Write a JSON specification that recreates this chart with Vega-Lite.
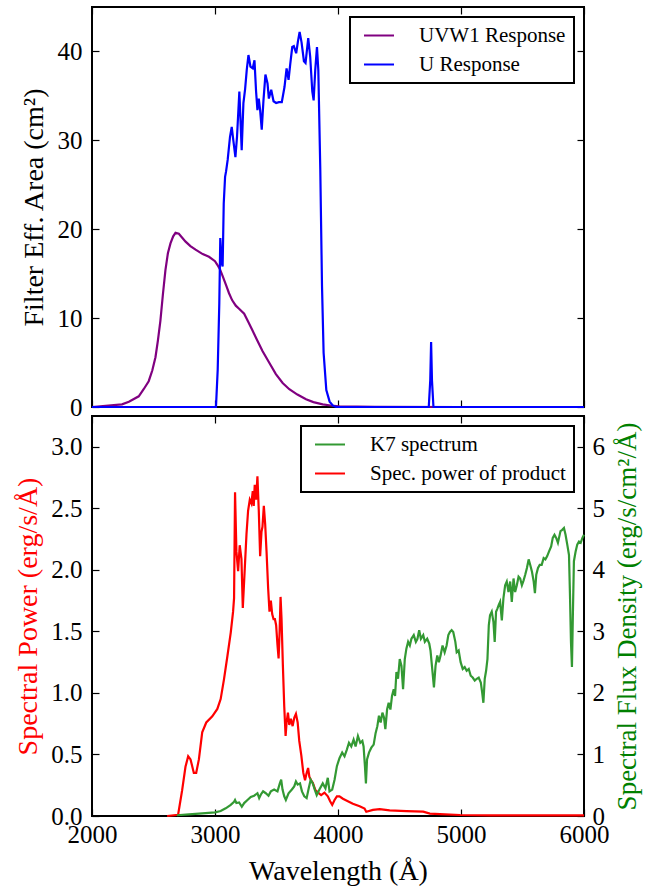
{
"$schema": "https://vega.github.io/schema/vega-lite/v6.json",
"autosize": {"type": "pad"},
"padding": {"left": 13, "top": 5, "right": 5, "bottom": 5},
"background": "white",
"config": {
  "font": "Liberation Serif",
  "view": {"stroke": "black", "strokeWidth": 2},
  "axis": {"domain": false, "grid": false, "tickColor": "black", "tickSize": -7, "tickWidth": 1.2,
    "labelFont": "Liberation Serif", "labelFontSize": 25, "labelColor": "black", "labelFlush": false, "labelOverlap": false,
    "titleFont": "Liberation Serif", "titleFontSize": 28, "titleFontWeight": "normal", "titleColor": "black"},
  "legend": {"orient": "top-right", "offset": 10, "padding": 8, "strokeColor": "black", "strokeWidth": 2, "fillColor": "white",
    "cornerRadius": 0, "labelFont": "Liberation Serif", "labelFontSize": 21, "labelColor": "black", "labelLimit": 400,
    "symbolType": "M-0.6,0H3.4", "symbolSize": 225, "symbolStrokeWidth": 2, "labelOffset": 40, "rowPadding": 7}
},
"resolve": {"scale": {"color": "independent"}},
"spacing": 9,
"bounds": "flush",
"datasets": {
  "top": [
    {"s":"UVW1 Response","w":2000,"v":0},{"s":"UVW1 Response","w":2244,"v":0.3},{"s":"UVW1 Response","w":2300,"v":0.6},{"s":"UVW1 Response","w":2380,"v":1.2},{"s":"UVW1 Response","w":2420,"v":2.0},{"s":"UVW1 Response","w":2461,"v":2.9},{"s":"UVW1 Response","w":2490,"v":4.1},{"s":"UVW1 Response","w":2516,"v":5.6},{"s":"UVW1 Response","w":2536,"v":7.5},{"s":"UVW1 Response","w":2556,"v":9.7},{"s":"UVW1 Response","w":2576,"v":12.6},{"s":"UVW1 Response","w":2597,"v":15.4},{"s":"UVW1 Response","w":2617,"v":17.3},{"s":"UVW1 Response","w":2638,"v":18.4},{"s":"UVW1 Response","w":2660,"v":19.2},{"s":"UVW1 Response","w":2679,"v":19.6},{"s":"UVW1 Response","w":2706,"v":19.5},{"s":"UVW1 Response","w":2761,"v":18.6},{"s":"UVW1 Response","w":2800,"v":18.1},{"s":"UVW1 Response","w":2842,"v":17.7},{"s":"UVW1 Response","w":2900,"v":17.2},{"s":"UVW1 Response","w":2951,"v":16.9},{"s":"UVW1 Response","w":3000,"v":16.4},{"s":"UVW1 Response","w":3019,"v":16.0},{"s":"UVW1 Response","w":3040,"v":15.5},{"s":"UVW1 Response","w":3060,"v":14.8},{"s":"UVW1 Response","w":3090,"v":13.7},{"s":"UVW1 Response","w":3114,"v":12.8},{"s":"UVW1 Response","w":3140,"v":12.0},{"s":"UVW1 Response","w":3169,"v":11.4},{"s":"UVW1 Response","w":3200,"v":11.0},{"s":"UVW1 Response","w":3237,"v":10.5},{"s":"UVW1 Response","w":3270,"v":9.6},{"s":"UVW1 Response","w":3305,"v":8.6},{"s":"UVW1 Response","w":3340,"v":7.6},{"s":"UVW1 Response","w":3386,"v":6.3},{"s":"UVW1 Response","w":3440,"v":5.0},{"s":"UVW1 Response","w":3495,"v":3.7},{"s":"UVW1 Response","w":3550,"v":2.7},{"s":"UVW1 Response","w":3604,"v":2.0},{"s":"UVW1 Response","w":3670,"v":1.4},{"s":"UVW1 Response","w":3740,"v":0.87},{"s":"UVW1 Response","w":3800,"v":0.55},{"s":"UVW1 Response","w":3876,"v":0.3},{"s":"UVW1 Response","w":3940,"v":0.17},{"s":"UVW1 Response","w":4012,"v":0.08},{"s":"UVW1 Response","w":4300,"v":0.02},{"s":"UVW1 Response","w":5000,"v":0},{"s":"UVW1 Response","w":6000,"v":0},
    {"s":"U Response","w":2000,"v":0},{"s":"U Response","w":3000,"v":0},{"s":"U Response","w":3008,"v":0},{"s":"U Response","w":3022,"v":4.2},{"s":"U Response","w":3035,"v":11.7},{"s":"U Response","w":3043,"v":19.0},{"s":"U Response","w":3054,"v":16.2},{"s":"U Response","w":3062,"v":15.8},{"s":"U Response","w":3071,"v":22.9},{"s":"U Response","w":3082,"v":25.9},{"s":"U Response","w":3090,"v":26.5},{"s":"U Response","w":3103,"v":27.8},{"s":"U Response","w":3122,"v":30.4},{"s":"U Response","w":3136,"v":31.5},{"s":"U Response","w":3149,"v":30.0},{"s":"U Response","w":3166,"v":28.1},{"s":"U Response","w":3179,"v":30.4},{"s":"U Response","w":3198,"v":35.5},{"s":"U Response","w":3217,"v":28.9},{"s":"U Response","w":3231,"v":34.2},{"s":"U Response","w":3245,"v":35.8},{"s":"U Response","w":3258,"v":37.9},{"s":"U Response","w":3272,"v":39.6},{"s":"U Response","w":3288,"v":38.3},{"s":"U Response","w":3307,"v":38.1},{"s":"U Response","w":3321,"v":39.0},{"s":"U Response","w":3334,"v":35.5},{"s":"U Response","w":3345,"v":33.4},{"s":"U Response","w":3356,"v":34.7},{"s":"U Response","w":3367,"v":33.4},{"s":"U Response","w":3380,"v":31.2},{"s":"U Response","w":3394,"v":34.5},{"s":"U Response","w":3410,"v":37.4},{"s":"U Response","w":3427,"v":36.4},{"s":"U Response","w":3438,"v":34.7},{"s":"U Response","w":3457,"v":35.7},{"s":"U Response","w":3476,"v":34.4},{"s":"U Response","w":3497,"v":34.2},{"s":"U Response","w":3519,"v":34.3},{"s":"U Response","w":3543,"v":34.3},{"s":"U Response","w":3565,"v":36.0},{"s":"U Response","w":3582,"v":38.1},{"s":"U Response","w":3598,"v":36.8},{"s":"U Response","w":3611,"v":38.5},{"s":"U Response","w":3628,"v":40.5},{"s":"U Response","w":3641,"v":40.6},{"s":"U Response","w":3660,"v":39.8},{"s":"U Response","w":3674,"v":41.1},{"s":"U Response","w":3688,"v":42.2},{"s":"U Response","w":3704,"v":41.0},{"s":"U Response","w":3723,"v":38.9},{"s":"U Response","w":3736,"v":38.7},{"s":"U Response","w":3758,"v":41.5},{"s":"U Response","w":3774,"v":39.4},{"s":"U Response","w":3791,"v":35.5},{"s":"U Response","w":3802,"v":34.5},{"s":"U Response","w":3815,"v":37.9},{"s":"U Response","w":3829,"v":40.5},{"s":"U Response","w":3840,"v":37.9},{"s":"U Response","w":3856,"v":26.7},{"s":"U Response","w":3870,"v":13.6},{"s":"U Response","w":3883,"v":6.1},{"s":"U Response","w":3905,"v":1.9},{"s":"U Response","w":3932,"v":0.6},{"s":"U Response","w":3959,"v":0.15},{"s":"U Response","w":3986,"v":0},{"s":"U Response","w":4738,"v":0},{"s":"U Response","w":4750,"v":3},{"s":"U Response","w":4757,"v":7.3},{"s":"U Response","w":4764,"v":3},{"s":"U Response","w":4776,"v":0},{"s":"U Response","w":6000,"v":0}
  ],
  "red": [
    {"s":"Spec. power of product","w":2611,"v":0.0},{"s":"Spec. power of product","w":2700,"v":0.01},{"s":"Spec. power of product","w":2733,"v":0.21},{"s":"Spec. power of product","w":2760,"v":0.40},{"s":"Spec. power of product","w":2782,"v":0.485},{"s":"Spec. power of product","w":2801,"v":0.46},{"s":"Spec. power of product","w":2828,"v":0.35},{"s":"Spec. power of product","w":2847,"v":0.35},{"s":"Spec. power of product","w":2869,"v":0.46},{"s":"Spec. power of product","w":2896,"v":0.68},{"s":"Spec. power of product","w":2929,"v":0.76},{"s":"Spec. power of product","w":2978,"v":0.81},{"s":"Spec. power of product","w":3019,"v":0.87},{"s":"Spec. power of product","w":3046,"v":0.95},{"s":"Spec. power of product","w":3073,"v":1.11},{"s":"Spec. power of product","w":3101,"v":1.30},{"s":"Spec. power of product","w":3128,"v":1.49},{"s":"Spec. power of product","w":3147,"v":1.66},{"s":"Spec. power of product","w":3155,"v":1.77},{"s":"Spec. power of product","w":3163,"v":2.63},{"s":"Spec. power of product","w":3174,"v":2.15},{"s":"Spec. power of product","w":3188,"v":1.99},{"s":"Spec. power of product","w":3201,"v":2.20},{"s":"Spec. power of product","w":3215,"v":2.09},{"s":"Spec. power of product","w":3226,"v":1.69},{"s":"Spec. power of product","w":3242,"v":2.01},{"s":"Spec. power of product","w":3256,"v":2.29},{"s":"Spec. power of product","w":3269,"v":2.48},{"s":"Spec. power of product","w":3283,"v":2.57},{"s":"Spec. power of product","w":3296,"v":2.54},{"s":"Spec. power of product","w":3307,"v":2.64},{"s":"Spec. power of product","w":3315,"v":2.52},{"s":"Spec. power of product","w":3323,"v":2.69},{"s":"Spec. power of product","w":3334,"v":2.57},{"s":"Spec. power of product","w":3345,"v":2.76},{"s":"Spec. power of product","w":3356,"v":2.48},{"s":"Spec. power of product","w":3367,"v":2.11},{"s":"Spec. power of product","w":3378,"v":2.31},{"s":"Spec. power of product","w":3386,"v":2.35},{"s":"Spec. power of product","w":3397,"v":2.52},{"s":"Spec. power of product","w":3408,"v":2.37},{"s":"Spec. power of product","w":3419,"v":2.15},{"s":"Spec. power of product","w":3432,"v":1.85},{"s":"Spec. power of product","w":3443,"v":1.66},{"s":"Spec. power of product","w":3454,"v":1.75},{"s":"Spec. power of product","w":3465,"v":1.64},{"s":"Spec. power of product","w":3476,"v":1.60},{"s":"Spec. power of product","w":3487,"v":1.60},{"s":"Spec. power of product","w":3497,"v":1.55},{"s":"Spec. power of product","w":3508,"v":1.39},{"s":"Spec. power of product","w":3517,"v":1.28},{"s":"Spec. power of product","w":3525,"v":1.49},{"s":"Spec. power of product","w":3533,"v":1.78},{"s":"Spec. power of product","w":3541,"v":1.60},{"s":"Spec. power of product","w":3552,"v":1.22},{"s":"Spec. power of product","w":3563,"v":0.89},{"s":"Spec. power of product","w":3574,"v":0.65},{"s":"Spec. power of product","w":3582,"v":0.76},{"s":"Spec. power of product","w":3593,"v":0.84},{"s":"Spec. power of product","w":3604,"v":0.74},{"s":"Spec. power of product","w":3617,"v":0.79},{"s":"Spec. power of product","w":3631,"v":0.73},{"s":"Spec. power of product","w":3645,"v":0.80},{"s":"Spec. power of product","w":3658,"v":0.83},{"s":"Spec. power of product","w":3672,"v":0.76},{"s":"Spec. power of product","w":3685,"v":0.61},{"s":"Spec. power of product","w":3702,"v":0.49},{"s":"Spec. power of product","w":3718,"v":0.35},{"s":"Spec. power of product","w":3732,"v":0.29},{"s":"Spec. power of product","w":3745,"v":0.35},{"s":"Spec. power of product","w":3757,"v":0.39},{"s":"Spec. power of product","w":3767,"v":0.32},{"s":"Spec. power of product","w":3781,"v":0.29},{"s":"Spec. power of product","w":3795,"v":0.27},{"s":"Spec. power of product","w":3816,"v":0.21},{"s":"Spec. power of product","w":3838,"v":0.19},{"s":"Spec. power of product","w":3863,"v":0.17},{"s":"Spec. power of product","w":3890,"v":0.19},{"s":"Spec. power of product","w":3917,"v":0.16},{"s":"Spec. power of product","w":3936,"v":0.12},{"s":"Spec. power of product","w":3953,"v":0.09},{"s":"Spec. power of product","w":3972,"v":0.13},{"s":"Spec. power of product","w":3991,"v":0.16},{"s":"Spec. power of product","w":4012,"v":0.16},{"s":"Spec. power of product","w":4040,"v":0.14},{"s":"Spec. power of product","w":4080,"v":0.12},{"s":"Spec. power of product","w":4121,"v":0.10},{"s":"Spec. power of product","w":4176,"v":0.08},{"s":"Spec. power of product","w":4216,"v":0.06},{"s":"Spec. power of product","w":4230,"v":0.035},{"s":"Spec. power of product","w":4284,"v":0.05},{"s":"Spec. power of product","w":4339,"v":0.055},{"s":"Spec. power of product","w":4420,"v":0.045},{"s":"Spec. power of product","w":4556,"v":0.04},{"s":"Spec. power of product","w":4693,"v":0.035},{"s":"Spec. power of product","w":4747,"v":0.02},{"s":"Spec. power of product","w":4829,"v":0.015},{"s":"Spec. power of product","w":4992,"v":0.008},{"s":"Spec. power of product","w":5237,"v":0.005},{"s":"Spec. power of product","w":5509,"v":0.005},{"s":"Spec. power of product","w":6000,"v":0.005}
  ],
  "green": [
    {"s":"K7 spectrum","w":2690,"v":0.012},{"s":"K7 spectrum","w":2788,"v":0.027},{"s":"K7 spectrum","w":2896,"v":0.044},{"s":"K7 spectrum","w":3000,"v":0.06},{"s":"K7 spectrum","w":3046,"v":0.08},{"s":"K7 spectrum","w":3087,"v":0.125},{"s":"K7 spectrum","w":3128,"v":0.18},{"s":"K7 spectrum","w":3155,"v":0.23},{"s":"K7 spectrum","w":3163,"v":0.26},{"s":"K7 spectrum","w":3174,"v":0.21},{"s":"K7 spectrum","w":3196,"v":0.22},{"s":"K7 spectrum","w":3218,"v":0.15},{"s":"K7 spectrum","w":3237,"v":0.21},{"s":"K7 spectrum","w":3264,"v":0.26},{"s":"K7 spectrum","w":3291,"v":0.31},{"s":"K7 spectrum","w":3318,"v":0.33},{"s":"K7 spectrum","w":3345,"v":0.37},{"s":"K7 spectrum","w":3359,"v":0.29},{"s":"K7 spectrum","w":3373,"v":0.35},{"s":"K7 spectrum","w":3391,"v":0.40},{"s":"K7 spectrum","w":3413,"v":0.37},{"s":"K7 spectrum","w":3435,"v":0.33},{"s":"K7 spectrum","w":3454,"v":0.40},{"s":"K7 spectrum","w":3481,"v":0.43},{"s":"K7 spectrum","w":3508,"v":0.40},{"s":"K7 spectrum","w":3527,"v":0.53},{"s":"K7 spectrum","w":3538,"v":0.59},{"s":"K7 spectrum","w":3549,"v":0.43},{"s":"K7 spectrum","w":3563,"v":0.32},{"s":"K7 spectrum","w":3576,"v":0.26},{"s":"K7 spectrum","w":3598,"v":0.37},{"s":"K7 spectrum","w":3625,"v":0.43},{"s":"K7 spectrum","w":3644,"v":0.48},{"s":"K7 spectrum","w":3658,"v":0.56},{"s":"K7 spectrum","w":3672,"v":0.51},{"s":"K7 spectrum","w":3691,"v":0.53},{"s":"K7 spectrum","w":3707,"v":0.40},{"s":"K7 spectrum","w":3726,"v":0.32},{"s":"K7 spectrum","w":3745,"v":0.29},{"s":"K7 spectrum","w":3762,"v":0.45},{"s":"K7 spectrum","w":3778,"v":0.59},{"s":"K7 spectrum","w":3795,"v":0.53},{"s":"K7 spectrum","w":3811,"v":0.43},{"s":"K7 spectrum","w":3827,"v":0.34},{"s":"K7 spectrum","w":3849,"v":0.43},{"s":"K7 spectrum","w":3876,"v":0.53},{"s":"K7 spectrum","w":3898,"v":0.45},{"s":"K7 spectrum","w":3917,"v":0.62},{"s":"K7 spectrum","w":3931,"v":0.40},{"s":"K7 spectrum","w":3953,"v":0.43},{"s":"K7 spectrum","w":3972,"v":0.59},{"s":"K7 spectrum","w":3991,"v":0.81},{"s":"K7 spectrum","w":4012,"v":0.94},{"s":"K7 spectrum","w":4034,"v":1.03},{"s":"K7 spectrum","w":4053,"v":0.97},{"s":"K7 spectrum","w":4072,"v":1.08},{"s":"K7 spectrum","w":4089,"v":1.19},{"s":"K7 spectrum","w":4108,"v":1.13},{"s":"K7 spectrum","w":4127,"v":1.24},{"s":"K7 spectrum","w":4143,"v":1.13},{"s":"K7 spectrum","w":4162,"v":1.30},{"s":"K7 spectrum","w":4181,"v":1.19},{"s":"K7 spectrum","w":4198,"v":1.22},{"s":"K7 spectrum","w":4208,"v":1.13},{"s":"K7 spectrum","w":4219,"v":0.81},{"s":"K7 spectrum","w":4227,"v":0.53},{"s":"K7 spectrum","w":4236,"v":0.92},{"s":"K7 spectrum","w":4252,"v":1.03},{"s":"K7 spectrum","w":4271,"v":1.11},{"s":"K7 spectrum","w":4290,"v":1.16},{"s":"K7 spectrum","w":4306,"v":1.35},{"s":"K7 spectrum","w":4320,"v":1.46},{"s":"K7 spectrum","w":4333,"v":1.63},{"s":"K7 spectrum","w":4347,"v":1.52},{"s":"K7 spectrum","w":4361,"v":1.68},{"s":"K7 spectrum","w":4374,"v":1.60},{"s":"K7 spectrum","w":4385,"v":1.41},{"s":"K7 spectrum","w":4399,"v":1.73},{"s":"K7 spectrum","w":4412,"v":1.84},{"s":"K7 spectrum","w":4426,"v":1.73},{"s":"K7 spectrum","w":4439,"v":1.95},{"s":"K7 spectrum","w":4453,"v":2.06},{"s":"K7 spectrum","w":4464,"v":1.95},{"s":"K7 spectrum","w":4475,"v":2.34},{"s":"K7 spectrum","w":4488,"v":2.23},{"s":"K7 spectrum","w":4502,"v":2.55},{"s":"K7 spectrum","w":4516,"v":2.44},{"s":"K7 spectrum","w":4529,"v":2.06},{"s":"K7 spectrum","w":4543,"v":2.55},{"s":"K7 spectrum","w":4556,"v":2.72},{"s":"K7 spectrum","w":4570,"v":2.83},{"s":"K7 spectrum","w":4584,"v":2.77},{"s":"K7 spectrum","w":4597,"v":2.88},{"s":"K7 spectrum","w":4616,"v":2.94},{"s":"K7 spectrum","w":4633,"v":2.83},{"s":"K7 spectrum","w":4646,"v":2.88},{"s":"K7 spectrum","w":4660,"v":3.02},{"s":"K7 spectrum","w":4674,"v":2.88},{"s":"K7 spectrum","w":4693,"v":2.94},{"s":"K7 spectrum","w":4706,"v":2.83},{"s":"K7 spectrum","w":4725,"v":2.88},{"s":"K7 spectrum","w":4742,"v":2.80},{"s":"K7 spectrum","w":4752,"v":2.69},{"s":"K7 spectrum","w":4766,"v":2.39},{"s":"K7 spectrum","w":4780,"v":2.09},{"s":"K7 spectrum","w":4793,"v":2.44},{"s":"K7 spectrum","w":4807,"v":2.61},{"s":"K7 spectrum","w":4820,"v":2.50},{"s":"K7 spectrum","w":4834,"v":2.61},{"s":"K7 spectrum","w":4850,"v":2.77},{"s":"K7 spectrum","w":4867,"v":2.66},{"s":"K7 spectrum","w":4883,"v":2.77},{"s":"K7 spectrum","w":4897,"v":2.94},{"s":"K7 spectrum","w":4910,"v":2.99},{"s":"K7 spectrum","w":4924,"v":3.02},{"s":"K7 spectrum","w":4937,"v":2.99},{"s":"K7 spectrum","w":4954,"v":2.83},{"s":"K7 spectrum","w":4965,"v":2.66},{"s":"K7 spectrum","w":4981,"v":2.69},{"s":"K7 spectrum","w":4997,"v":2.50},{"s":"K7 spectrum","w":5014,"v":2.39},{"s":"K7 spectrum","w":5030,"v":2.42},{"s":"K7 spectrum","w":5046,"v":2.36},{"s":"K7 spectrum","w":5063,"v":2.39},{"s":"K7 spectrum","w":5079,"v":2.28},{"s":"K7 spectrum","w":5095,"v":2.25},{"s":"K7 spectrum","w":5112,"v":2.20},{"s":"K7 spectrum","w":5128,"v":2.23},{"s":"K7 spectrum","w":5144,"v":2.25},{"s":"K7 spectrum","w":5161,"v":2.17},{"s":"K7 spectrum","w":5172,"v":2.01},{"s":"K7 spectrum","w":5182,"v":1.84},{"s":"K7 spectrum","w":5193,"v":2.23},{"s":"K7 spectrum","w":5204,"v":2.36},{"s":"K7 spectrum","w":5215,"v":2.55},{"s":"K7 spectrum","w":5226,"v":3.10},{"s":"K7 spectrum","w":5236,"v":3.26},{"s":"K7 spectrum","w":5250,"v":3.32},{"s":"K7 spectrum","w":5264,"v":3.15},{"s":"K7 spectrum","w":5274,"v":2.83},{"s":"K7 spectrum","w":5285,"v":3.32},{"s":"K7 spectrum","w":5296,"v":3.37},{"s":"K7 spectrum","w":5307,"v":3.43},{"s":"K7 spectrum","w":5318,"v":3.48},{"s":"K7 spectrum","w":5332,"v":3.18},{"s":"K7 spectrum","w":5345,"v":3.54},{"s":"K7 spectrum","w":5359,"v":3.75},{"s":"K7 spectrum","w":5372,"v":3.81},{"s":"K7 spectrum","w":5386,"v":3.64},{"s":"K7 spectrum","w":5400,"v":3.81},{"s":"K7 spectrum","w":5413,"v":3.48},{"s":"K7 spectrum","w":5427,"v":3.86},{"s":"K7 spectrum","w":5440,"v":3.64},{"s":"K7 spectrum","w":5454,"v":3.75},{"s":"K7 spectrum","w":5468,"v":3.89},{"s":"K7 spectrum","w":5481,"v":3.86},{"s":"K7 spectrum","w":5495,"v":3.75},{"s":"K7 spectrum","w":5509,"v":3.83},{"s":"K7 spectrum","w":5522,"v":3.92},{"s":"K7 spectrum","w":5536,"v":4.03},{"s":"K7 spectrum","w":5550,"v":4.17},{"s":"K7 spectrum","w":5563,"v":4.08},{"s":"K7 spectrum","w":5577,"v":3.97},{"s":"K7 spectrum","w":5591,"v":3.81},{"s":"K7 spectrum","w":5601,"v":3.62},{"s":"K7 spectrum","w":5612,"v":3.92},{"s":"K7 spectrum","w":5626,"v":4.03},{"s":"K7 spectrum","w":5640,"v":4.08},{"s":"K7 spectrum","w":5656,"v":4.08},{"s":"K7 spectrum","w":5672,"v":4.19},{"s":"K7 spectrum","w":5686,"v":4.17},{"s":"K7 spectrum","w":5700,"v":4.22},{"s":"K7 spectrum","w":5716,"v":4.30},{"s":"K7 spectrum","w":5733,"v":4.38},{"s":"K7 spectrum","w":5746,"v":4.52},{"s":"K7 spectrum","w":5760,"v":4.57},{"s":"K7 spectrum","w":5774,"v":4.52},{"s":"K7 spectrum","w":5788,"v":4.44},{"s":"K7 spectrum","w":5799,"v":4.54},{"s":"K7 spectrum","w":5809,"v":4.63},{"s":"K7 spectrum","w":5823,"v":4.65},{"s":"K7 spectrum","w":5837,"v":4.68},{"s":"K7 spectrum","w":5850,"v":4.57},{"s":"K7 spectrum","w":5864,"v":4.41},{"s":"K7 spectrum","w":5878,"v":4.24},{"s":"K7 spectrum","w":5886,"v":3.59},{"s":"K7 spectrum","w":5894,"v":2.83},{"s":"K7 spectrum","w":5902,"v":2.42},{"s":"K7 spectrum","w":5910,"v":3.32},{"s":"K7 spectrum","w":5918,"v":4.14},{"s":"K7 spectrum","w":5932,"v":4.30},{"s":"K7 spectrum","w":5945,"v":4.41},{"s":"K7 spectrum","w":5959,"v":4.46},{"s":"K7 spectrum","w":5973,"v":4.44},{"s":"K7 spectrum","w":5987,"v":4.52},{"s":"K7 spectrum","w":6000,"v":4.57}
  ]
},
"vconcat": [
  {
    "width": 492, "height": 400,
    "data": {"name": "top"},
    "layer": [
      {"mark": {"type": "line", "strokeWidth": 2.2},
       "encoding": {
         "x": {"field": "w", "type": "quantitative", "scale": {"domain": [2000, 6000]},
               "axis": {"orient": "bottom", "labels": false, "title": null, "values": [2000, 3000, 4000, 5000, 6000]}},
         "y": {"field": "v", "type": "quantitative", "scale": {"domain": [0, 45]},
               "axis": {"orient": "left", "title": "Filter Eff. Area (cm²)", "values": [0, 10, 20, 30, 40], "labelPadding": 17, "titlePadding": 9}},
         "color": {"field": "s", "type": "nominal", "scale": {"domain": ["UVW1 Response", "U Response"], "range": ["#800080", "#0000ff"]},
                   "legend": {"title": null}}
       }},
      {"mark": {"type": "line", "opacity": 0},
       "encoding": {
         "x": {"field": "w", "type": "quantitative", "axis": {"orient": "top", "labels": false, "title": null, "values": [2000, 3000, 4000, 5000, 6000]}},
         "y": {"field": "v", "type": "quantitative", "axis": {"orient": "right", "labels": false, "title": null, "values": [0, 10, 20, 30, 40]}},
         "detail": {"field": "s"}
       }}
    ],
    "resolve": {"axis": {"x": "independent", "y": "independent"}}
  },
  {
    "width": 492, "height": 400,
    "layer": [
      {"data": {"name": "red"},
       "mark": {"type": "line", "strokeWidth": 2.2},
       "encoding": {
         "x": {"field": "w", "type": "quantitative", "scale": {"domain": [2000, 6000]},
               "axis": {"orient": "bottom", "title": "Wavelength (Å)", "format": "d", "values": [2000, 3000, 4000, 5000, 6000], "labelPadding": 13, "titlePadding": 10}},
         "y": {"field": "v", "type": "quantitative", "scale": {"domain": [0, 3.25]},
               "axis": {"orient": "left", "title": "Spectral Power (erg/s/Å)", "titleColor": "#ff0000", "values": [0, 0.5, 1, 1.5, 2, 2.5, 3], "format": ".1f", "labelPadding": 17, "titlePadding": 8}},
         "color": {"field": "s", "type": "nominal", "scale": {"domain": ["K7 spectrum", "Spec. power of product"], "range": ["#339933", "#ff0000"]},
                   "legend": {"title": null}}
       }},
      {"data": {"name": "green"},
       "mark": {"type": "line", "strokeWidth": 2.2},
       "encoding": {
         "x": {"field": "w", "type": "quantitative",
               "axis": {"orient": "top", "labels": false, "title": null, "values": [2000, 3000, 4000, 5000, 6000]}},
         "y": {"field": "v", "type": "quantitative", "scale": {"domain": [0, 6.5]},
               "axis": {"orient": "right", "title": "Spectral Flux Density (erg/s/cm²/Å)", "titleColor": "#008000", "titleFontSize": 27, "titleAngle": 270, "titleBaseline": "top", "values": [0, 1, 2, 3, 4, 5, 6], "labelPadding": 15, "titlePadding": 10}},
         "color": {"field": "s", "type": "nominal", "scale": {"domain": ["K7 spectrum", "Spec. power of product"], "range": ["#339933", "#ff0000"]},
                   "legend": {"title": null}}
       }}
    ],
    "resolve": {"scale": {"y": "independent"}, "axis": {"x": "independent"}}
  }
]
}
